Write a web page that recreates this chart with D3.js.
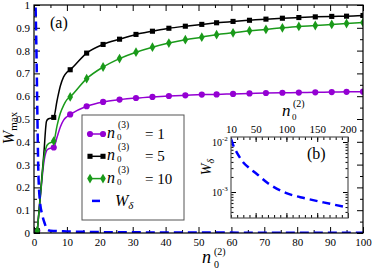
<!DOCTYPE html>
<html>
<head>
<meta charset="utf-8">
<script src="https://cdn.jsdelivr.net/npm/d3@7"></script>
<style>
  body { margin: 0; background: #fff; }
  svg { display: block; }
</style>
</head>
<body>
<script>
// n0^(2) values where markers sit
const n2Marks = [1, 6, 11, 16, 21, 26, 31, 36, 41, 46, 51, 55.5, 60.5, 65.5, 70.5, 75.5, 80.5, 85.5, 90.5, 95, 100];
const wMax1 = [0.01, 0.375, 0.52, 0.556, 0.575, 0.585, 0.592, 0.597, 0.601, 0.604, 0.607, 0.608, 0.610, 0.612, 0.614, 0.615, 0.616, 0.617, 0.618, 0.619, 0.620];
const wMax5 = [0.01, 0.507, 0.716, 0.789, 0.827, 0.850, 0.871, 0.885, 0.898, 0.907, 0.915, 0.922, 0.928, 0.933, 0.938, 0.942, 0.945, 0.948, 0.950, 0.951, 0.954];
const wMax10 = [0.01, 0.403, 0.597, 0.677, 0.728, 0.765, 0.793, 0.815, 0.833, 0.848, 0.859, 0.870, 0.878, 0.887, 0.893, 0.900, 0.906, 0.910, 0.915, 0.919, 0.923];

// extra points on the lines (no markers) at small n0^(2)
const n2Fine = [2, 3, 3.8, 4.3, 7, 8, 9, 10];
const wMax1Fine = [0.17, 0.31, 0.36, 0.368, 0.42, 0.465, 0.495, 0.51];
const wMax5Fine = [0.18, 0.35, 0.49, 0.5, 0.58, 0.645, 0.685, 0.705];
const wMax10Fine = [0.17, 0.33, 0.38, 0.39, 0.47, 0.525, 0.56, 0.585];

// W_delta, main panel
const n2Delta = [0.4, 0.8, 1.1, 1.3, 1.8, 2.5, 3.3, 4, 5, 10, 20, 30, 50, 100];
const wDelta = [1.05, 0.75, 0.45, 0.28, 0.14, 0.08, 0.04, 0.015, 0.01, 0.007, 0.004, 0.003, 0.002, 0.001];

// W_delta, inset (b)
const n2Inset = [10, 15, 20, 30, 40, 50, 70, 100, 130, 160, 200];
const wDeltaInset = [0.0115, 0.0078, 0.006, 0.0039, 0.003, 0.0024, 0.0015, 0.00095, 0.00075, 0.00062, 0.00049];

const xTicks = d3.range(0, 101, 10);
const yTicks = d3.range(0, 1.01, 0.1);
const insetXLabels = [10, 50, 100, 150, 200];
const insetYMajor = [1e-3, 1e-2];

const W = 373, H = 270;
const purple = '#9400d3', green = '#1a9a1a', blue = '#0000ff';
const serif = '"Liberation Serif", "Times New Roman", serif';

const svg = d3.select('body').append('svg').attr('width', W).attr('height', H)
  .style('font-family', serif);

const x = d3.scaleLinear().domain([0, 100]).range([34, 363]);
const y = d3.scaleLinear().domain([0, 1]).range([233, 5]);

svg.append('defs').append('clipPath').attr('id', 'clipA')
  .append('rect').attr('x', x(0)).attr('y', y(1)).attr('width', x(100) - x(0)).attr('height', y(0) - y(1));

// axes with inward ticks on all four sides
const tidy = g => { g.select('.domain').remove(); g.selectAll('line').attr('stroke', '#000'); g.attr('font-family', null); };
const font = g => g.selectAll('text').style('font-size', '11px').attr('fill', '#000');

svg.append('g').attr('transform', `translate(0,${y(0)})`)
  .call(d3.axisBottom(x).tickValues(xTicks).tickSize(-6).tickPadding(5).tickFormat(d3.format('d')))
  .call(tidy).call(font);
svg.append('g').attr('transform', `translate(0,${y(0)})`)
  .call(d3.axisBottom(x).tickValues(xTicks.map(d => d + 5).filter(d => d < 100)).tickSize(-3).tickFormat(''))
  .call(tidy);
svg.append('g').attr('transform', `translate(0,${y(1)})`)
  .call(d3.axisTop(x).tickValues(xTicks).tickSize(-6).tickFormat(''))
  .call(tidy);
svg.append('g').attr('transform', `translate(0,${y(1)})`)
  .call(d3.axisTop(x).tickValues(xTicks.map(d => d + 5).filter(d => d < 100)).tickSize(-3).tickFormat(''))
  .call(tidy);
svg.append('g').attr('transform', `translate(${x(0)},0)`)
  .call(d3.axisLeft(y).tickValues(yTicks).tickSize(-6).tickPadding(4).tickFormat(d => d === 0 ? '0' : d > 0.99 ? '1' : d3.format('.1f')(d)))
  .call(tidy).call(font);
svg.append('g').attr('transform', `translate(${x(0)},0)`)
  .call(d3.axisLeft(y).tickValues(yTicks.slice(0, 10).map(d => d + 0.05)).tickSize(-3).tickFormat(''))
  .call(tidy);
svg.append('g').attr('transform', `translate(${x(100)},0)`)
  .call(d3.axisRight(y).tickValues(yTicks).tickSize(-6).tickFormat(''))
  .call(tidy);
svg.append('g').attr('transform', `translate(${x(100)},0)`)
  .call(d3.axisRight(y).tickValues(yTicks.slice(0, 10).map(d => d + 0.05)).tickSize(-3).tickFormat(''))
  .call(tidy);

// series
const series = [
  { mark: wMax1, fine: wMax1Fine, color: purple, symbol: d3.symbolCircle, size: 30 },
  { mark: wMax5, fine: wMax5Fine, color: '#000', symbol: d3.symbolSquare, size: 26 },
  { mark: wMax10, fine: wMax10Fine, color: green, symbol: d3.symbolDiamond, size: 28 },
];

const line = d3.line().x(d => x(d[0])).y(d => y(d[1])).curve(d3.curveMonotoneX);
const plot = svg.append('g').attr('clip-path', 'url(#clipA)');

series.forEach(s => {
  const pts = n2Marks.map((n, i) => [n, s.mark[i]])
    .concat(n2Fine.map((n, i) => [n, s.fine[i]]))
    .sort((a, b) => a[0] - b[0]);
  plot.append('path').datum(pts)
    .attr('d', line).attr('fill', 'none').attr('stroke', s.color).attr('stroke-width', 1.5);
  plot.append('g').selectAll('path')
    .data(n2Marks.map((n, i) => [n, s.mark[i]]))
    .enter().append('path')
    .attr('transform', d => `translate(${x(d[0])},${y(d[1])})`)
    .attr('d', d3.symbol().type(s.symbol).size(s.size))
    .attr('fill', s.color);
});

plot.append('path').datum(n2Delta.map((n, i) => [n, wDelta[i]]))
  .attr('d', line).attr('fill', 'none').attr('stroke', blue)
  .attr('stroke-width', 2.5).attr('stroke-dasharray', '9,5');

// frame
svg.append('rect').attr('x', x(0)).attr('y', y(1)).attr('width', x(100) - x(0)).attr('height', y(0) - y(1))
  .attr('fill', 'none').attr('stroke', '#000').attr('stroke-width', 1.2);

svg.append('text').attr('x', 50).attr('y', 28).style('font-size', '16px').text('(a)');

// axis titles
const yl = svg.append('text').attr('transform', 'translate(14,128) rotate(-90)').attr('text-anchor', 'middle');
yl.append('tspan').style('font-style', 'italic').style('font-size', '16px').text('W');
yl.append('tspan').attr('dy', 3).style('font-size', '11px').text('max');

const xl = svg.append('g');
xl.append('text').attr('x', 202).attr('y', 263).style('font-style', 'italic').style('font-size', '18px').text('n');
xl.append('text').attr('x', 214).attr('y', 255).style('font-size', '10px').text('(2)');
xl.append('text').attr('x', 214).attr('y', 267.5).style('font-size', '10px').text('0');

// legend
const lg = svg.append('g');
lg.append('rect').attr('x', 82).attr('y', 115).attr('width', 102).attr('height', 105)
  .attr('fill', '#fff').attr('stroke', '#555').attr('stroke-width', 1);
const legendRows = [
  { label: '1', s: series[0] },
  { label: '5', s: series[1] },
  { label: '10', s: series[2] },
];
legendRows.forEach((r, i) => {
  const cy = 134 + i * 22.3;
  lg.append('line').attr('x1', 90).attr('x2', 103).attr('y1', cy).attr('y2', cy)
    .attr('stroke', r.s.color).attr('stroke-width', 1.5);
  [90, 103].forEach(px => lg.append('path').attr('transform', `translate(${px},${cy})`)
    .attr('d', d3.symbol().type(r.s.symbol).size(r.s.size)).attr('fill', r.s.color));
  lg.append('text').attr('x', 107).attr('y', cy + 4).style('font-style', 'italic').style('font-size', '16px').text('n');
  lg.append('text').attr('x', 118).attr('y', cy - 6).style('font-size', '9.5px').text('(3)');
  lg.append('text').attr('x', 117).attr('y', cy + 6).style('font-size', '9px').text('0');
  lg.append('text').attr('x', 145).attr('y', cy + 5).style('font-size', '15px').text('= ' + r.label);
});
const wy = 134 + 3 * 22.3;
lg.append('line').attr('x1', 92).attr('x2', 100).attr('y1', wy).attr('y2', wy)
  .attr('stroke', blue).attr('stroke-width', 2.5);
const wl = lg.append('text').attr('x', 115).attr('y', wy + 5);
wl.append('tspan').style('font-style', 'italic').style('font-size', '16px').text('W');
wl.append('tspan').attr('dy', 3).style('font-style', 'italic').style('font-size', '11px').text('δ');

// inset (b)
const xi = d3.scaleLinear().domain([10, 200]).range([231, 348]);
const yi = d3.scaleLog().domain([Math.pow(10, -3.52), Math.pow(10, -1.9)]).range([218, 137]);

svg.append('defs').append('clipPath').attr('id', 'clipB')
  .append('rect').attr('x', 231).attr('y', 137).attr('width', 117).attr('height', 81);

svg.append('rect').attr('x', 231).attr('y', 137).attr('width', 117).attr('height', 81).attr('fill', '#fff');

const xiMinor = d3.range(10, 201, 10);
const yiMinor = [4e-4, 5e-4, 6e-4, 7e-4, 8e-4, 9e-4, 2e-3, 3e-3, 4e-3, 5e-3, 6e-3, 7e-3, 8e-3, 9e-3];

svg.append('g').attr('transform', 'translate(0,218)')
  .call(d3.axisBottom(xi).tickValues(xiMinor).tickSize(-3).tickFormat('')).call(tidy);
svg.append('g').attr('transform', 'translate(0,218)')
  .call(d3.axisBottom(xi).tickValues([50, 100, 150, 200]).tickSize(-5).tickFormat('')).call(tidy);
svg.append('g').attr('transform', 'translate(0,137)')
  .call(d3.axisTop(xi).tickValues(xiMinor).tickSize(-3).tickFormat('')).call(tidy);
svg.append('g').attr('transform', 'translate(0,137)')
  .call(d3.axisTop(xi).tickValues(insetXLabels).tickSize(-5).tickPadding(4).tickFormat(d3.format('d')))
  .call(tidy).call(font);
[231, 348].forEach((px, k) => {
  const ax = k === 0 ? d3.axisLeft(yi) : d3.axisRight(yi);
  svg.append('g').attr('transform', `translate(${px},0)`)
    .call(ax.tickValues(yiMinor).tickSize(-2.5).tickFormat('')).call(tidy);
  svg.append('g').attr('transform', `translate(${px},0)`)
    .call((k === 0 ? d3.axisLeft(yi) : d3.axisRight(yi)).tickValues(insetYMajor).tickSize(-5).tickFormat('')).call(tidy);
});
insetYMajor.forEach(v => {
  const t = svg.append('text').attr('x', 212).attr('y', yi(v) + 4).style('font-size', '10px');
  t.append('tspan').text('10');
  t.append('tspan').attr('dy', -5).style('font-size', '7px').text('-' + Math.round(-Math.log10(v)));
});

svg.append('g').attr('clip-path', 'url(#clipB)').append('path')
  .datum(n2Inset.map((n, i) => [n, wDeltaInset[i]]))
  .attr('d', d3.line().x(d => xi(d[0])).y(d => yi(d[1])).curve(d3.curveMonotoneX))
  .attr('fill', 'none').attr('stroke', blue).attr('stroke-width', 2.5).attr('stroke-dasharray', '8,5');

svg.append('rect').attr('x', 231).attr('y', 137).attr('width', 117).attr('height', 81)
  .attr('fill', 'none').attr('stroke', '#555').attr('stroke-width', 1.2);

svg.append('text').attr('x', 307).attr('y', 159).style('font-size', '16px').text('(b)');

const il = svg.append('g');
il.append('text').attr('x', 282).attr('y', 116).style('font-style', 'italic').style('font-size', '17px').text('n');
il.append('text').attr('x', 293).attr('y', 107).style('font-size', '10px').text('(2)');
il.append('text').attr('x', 292).attr('y', 120).style('font-size', '9px').text('0');

const iy = svg.append('text').attr('transform', 'translate(211,167) rotate(-90)').attr('text-anchor', 'middle');
iy.append('tspan').style('font-style', 'italic').style('font-size', '14px').text('W');
iy.append('tspan').attr('dy', 3).style('font-style', 'italic').style('font-size', '10px').text('δ');

// make sure every label uses the serif face
svg.selectAll('text').style('font-family', serif).attr('fill', '#000');
</script>
</body>
</html>
